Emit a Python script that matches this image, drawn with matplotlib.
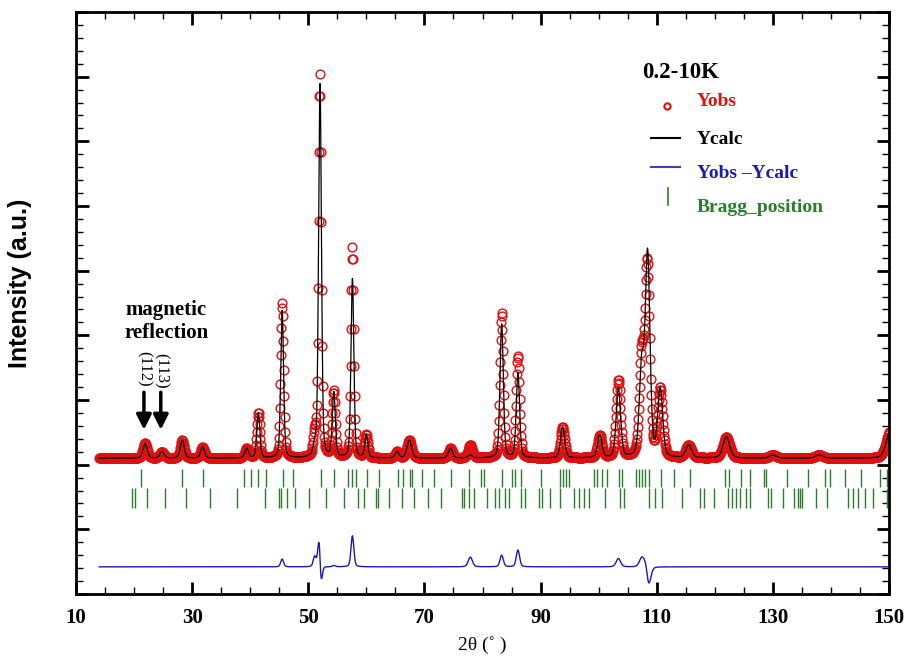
import numpy as np
import matplotlib
matplotlib.use("Agg")
import matplotlib.pyplot as plt
from matplotlib.lines import Line2D

# ---------------- data ----------------
background = 2.10
diff_offset = 0.42
two_theta_start, two_theta_end, step = 14.0, 150.0, 0.08

# peak positions (2theta), observed heights above background, calculated heights, FWHM
peak_pos  = [21.9, 24.8, 28.3, 31.8, 39.4, 41.4, 45.5, 51.1, 52.0, 54.4, 57.6, 60.0,
             65.3, 67.4, 74.5, 77.9, 83.3, 86.1, 93.8, 100.2, 103.4, 107.4, 108.4,
             110.6, 115.5, 122.0, 130.0, 138.0, 150.3]
obs_height  = [0.23, 0.10, 0.28, 0.17, 0.15, 0.70, 2.40, 0.32, 5.92, 1.02, 3.25, 0.36,
               0.10, 0.28, 0.15, 0.20, 2.25, 1.58, 0.48, 0.35, 1.20, 1.50, 2.95,
               1.05, 0.20, 0.33, 0.05, 0.05, 0.45]
calc_height = [0.23, 0.10, 0.28, 0.17, 0.15, 0.70, 2.28, 0.16, 5.78, 1.00, 2.77, 0.36,
               0.10, 0.28, 0.15, 0.05, 2.07, 1.32, 0.48, 0.35, 1.07, 1.36, 3.12,
               1.05, 0.20, 0.33, 0.05, 0.05, 0.45]
peak_fwhm = [0.85, 0.85, 0.8, 0.8, 0.75, 0.62, 0.58, 0.58, 0.58, 0.62, 0.58, 0.62,
             0.75, 0.95, 0.85, 0.85, 0.68, 0.68, 0.85, 0.9, 0.9, 0.95, 0.95,
             1.0, 1.15, 1.35, 1.35, 1.45, 1.7]
calc_shift = [0, 0, 0, 0, 0, 0, 0, 0, 0.02, 0, 0, 0,
              0, 0, 0, 0, 0, 0, 0, 0, 0, 0, 0.03,
              0, 0, 0, 0, 0, 0]

# Bragg reflection positions (two phases)
bragg_row1 = [21.2, 28.3, 31.9, 38.9, 40.1, 41.4, 42.8, 45.6, 47.3, 52.2, 54.4, 56.8, 57.5,
              58.2, 60.1, 62.2, 65.5, 66.3, 67.6, 67.9, 69.6, 71.7, 74.6, 77.7, 79.8, 80.3,
              83.3, 85.0, 85.6, 86.7, 90.0, 93.3, 93.8, 94.3, 94.9, 99.2, 99.7, 100.6,
              101.4, 103.5, 104.0, 106.4, 106.9, 107.5, 108.0, 108.7, 110.8, 113.0, 115.8,
              121.8, 122.5, 124.6, 126.0, 128.4, 128.9, 132.5, 136.0, 138.9, 139.8, 142.4,
              145.2, 148.4, 149.6]
bragg_row2 = [19.7, 20.2, 22.3, 25.4, 29.0, 33.0, 37.8, 42.5, 44.9, 45.3, 46.3, 47.7, 50.1,
              53.0, 56.1, 58.6, 59.6, 61.7, 62.0, 63.9, 66.2, 68.2, 70.7, 72.9, 76.4, 76.9,
              77.6, 78.6, 80.7, 82.1, 82.8, 83.8, 84.5, 86.7, 87.3, 89.7, 90.2, 91.6, 93.3,
              95.7, 96.6, 97.5, 98.3, 101.1, 103.7, 104.4, 108.7, 109.7, 110.9, 114.4, 117.5,
              118.2, 119.9, 122.2, 123.0, 123.6, 124.4, 125.3, 126.1, 129.1, 129.6, 131.7,
              133.7, 134.3, 134.6, 135.1, 137.4, 139.4, 142.9, 143.8, 144.6, 145.8, 147.2,
              149.6]
bragg_row1_span = (1.655, 1.93)
bragg_row2_span = (1.33, 1.64)

x_ticks = [10, 30, 50, 70, 90, 110, 130, 150]

# ---------------- profile model built from the read peaks ----------------
def profile(x, pos, hgt, fwhm, shift):
    y = np.full_like(x, background)
    eta = 0.3
    for p, h, w, s in zip(pos, hgt, fwhm, shift):
        c = p + s
        g = np.exp(-4 * np.log(2) * ((x - c) / w) ** 2)
        l = 1.0 / (1.0 + 4 * ((x - c) / w) ** 2)
        y += h * ((1 - eta) * g + eta * l)
    return y

x_obs = np.arange(two_theta_start, two_theta_end + 1e-9, step)
zero_shift = [0] * len(peak_pos)
y_obs = profile(x_obs, peak_pos, obs_height, peak_fwhm, zero_shift)
x_fine = np.arange(two_theta_start, two_theta_end + 1e-9, 0.02)
y_calc = profile(x_fine, peak_pos, calc_height, peak_fwhm, calc_shift)
y_calc_on_obs = profile(x_obs, peak_pos, calc_height, peak_fwhm, calc_shift)
y_diff = y_obs - y_calc_on_obs + diff_offset

# ---------------- figure ----------------
W, H = 911, 658
fig = plt.figure(figsize=(W / 100, H / 100), dpi=100)
L, R, T, B = 76, 889, 12, 594
ax = fig.add_axes([L / W, 1 - B / H, (R - L) / W, (B - T) / H])

serif = ["Liberation Serif", "DejaVu Serif"]
serif_b = dict(family=serif, weight="bold")

ax.plot(x_obs, y_obs, linestyle="none", marker="o", markersize=6.3,
        markerfacecolor="none", markeredgecolor="#e01010", markeredgewidth=1.0, zorder=2)
ax.plot(x_fine, y_calc, color="black", lw=0.9, zorder=3)
ax.plot(x_obs, y_diff, color="#1a1ab8", lw=1.0, zorder=3)
ax.vlines(bragg_row1, *bragg_row1_span, color="#2a7d2a", lw=1.0, zorder=2)
ax.vlines(bragg_row2, *bragg_row2_span, color="#2a7d2a", lw=1.0, zorder=2)

ax.set_xlim(10, 150)
ax.set_ylim(0, 9)
ax.set_xticks(x_ticks)
ax.set_xticks(np.arange(10, 151, 5), minor=True)
ax.set_yticks(np.arange(0, 9.01, 1))
ax.set_yticks(np.arange(0, 9.01, 0.2), minor=True)
ax.set_yticklabels([])
ax.tick_params(which="both", direction="in", top=True, right=True)
ax.tick_params(which="major", length=9, width=2.0)
ax.tick_params(which="minor", length=5, width=1.0)
ax.tick_params(axis="x", which="major", pad=10)
for lab in ax.get_xticklabels():
    lab.set_fontfamily(serif)
    lab.set_fontweight("bold")
    lab.set_fontsize(15)
for s in ax.spines.values():
    s.set_linewidth(2.0)

fig.text(20 / W, 1 - 283 / H, "Intensity (a.u.)", rotation=90, ha="center", va="center",
         fontsize=18, fontweight="bold", family=["Liberation Sans", "DejaVu Sans"])
fig.text(482 / W, 1 - 645 / H, "2θ (˚ )", ha="center", va="center",
         fontsize=14, family=serif)

# legend drawn by hand
def ax_xy(px, py):
    return ((px - L) / (R - L), (B - py) / (B - T))

tr = ax.transAxes
ax.text(*ax_xy(642, 72), "0.2-10K", transform=tr, ha="left", va="center", fontsize=16.5, **serif_b)
ax.text(*ax_xy(697, 102), "Yobs", transform=tr, ha="left", va="center", fontsize=14,
        color="#e01010", **serif_b)
ax.text(*ax_xy(697, 139), "Ycalc", transform=tr, ha="left", va="center", fontsize=14,
        color="black", **serif_b)
ax.text(*ax_xy(697, 174), "Yobs \u2013Ycalc", transform=tr, ha="left", va="center", fontsize=14,
        color="#1a1ab8", **serif_b)
ax.text(*ax_xy(697, 208), "Bragg_position", transform=tr, ha="left", va="center", fontsize=14,
        color="#2a7d2a", **serif_b)
cx, cy = ax_xy(667, 106)
ax.add_line(Line2D([cx], [cy], transform=tr, marker="o", markersize=4.5, markerfacecolor="none",
                   markeredgecolor="#e01010", markeredgewidth=1.5, linestyle="none"))
x0, yy = ax_xy(651, 138); x1, _ = ax_xy(680, 138)
ax.add_line(Line2D([x0, x1], [yy, yy], transform=tr, color="black", lw=1.5))
x0, yy = ax_xy(651, 167); x1, _ = ax_xy(680, 167)
ax.add_line(Line2D([x0, x1], [yy, yy], transform=tr, color="#4040b0", lw=1.5))
gx, gy0 = ax_xy(668, 188); _, gy1 = ax_xy(668, 205)
ax.add_line(Line2D([gx, gx], [gy0, gy1], transform=tr, color="#2a7d2a", lw=1.2))

# magnetic reflection annotation
ax.text(*ax_xy(166, 310), "magnetic", transform=tr, ha="center", va="center",
        fontsize=15, **serif_b)
ax.text(*ax_xy(167, 333), "reflection", transform=tr, ha="center", va="center",
        fontsize=15, **serif_b)
ax.text(*ax_xy(144, 369), "(112)", transform=tr, ha="center", va="center", rotation=-90,
        fontsize=12, family=serif)
ax.text(*ax_xy(161, 371), "(113)", transform=tr, ha="center", va="center", rotation=-90,
        fontsize=12, family=serif)
for xa in (21.7, 24.6):
    ax.annotate("", xy=(xa, 2.54), xytext=(xa, 3.12),
                arrowprops=dict(arrowstyle="-|>,head_length=0.9,head_width=0.45",
                                color="black", lw=2.5, shrinkA=0, shrinkB=0))

fig.savefig("out.png", dpi=100)
